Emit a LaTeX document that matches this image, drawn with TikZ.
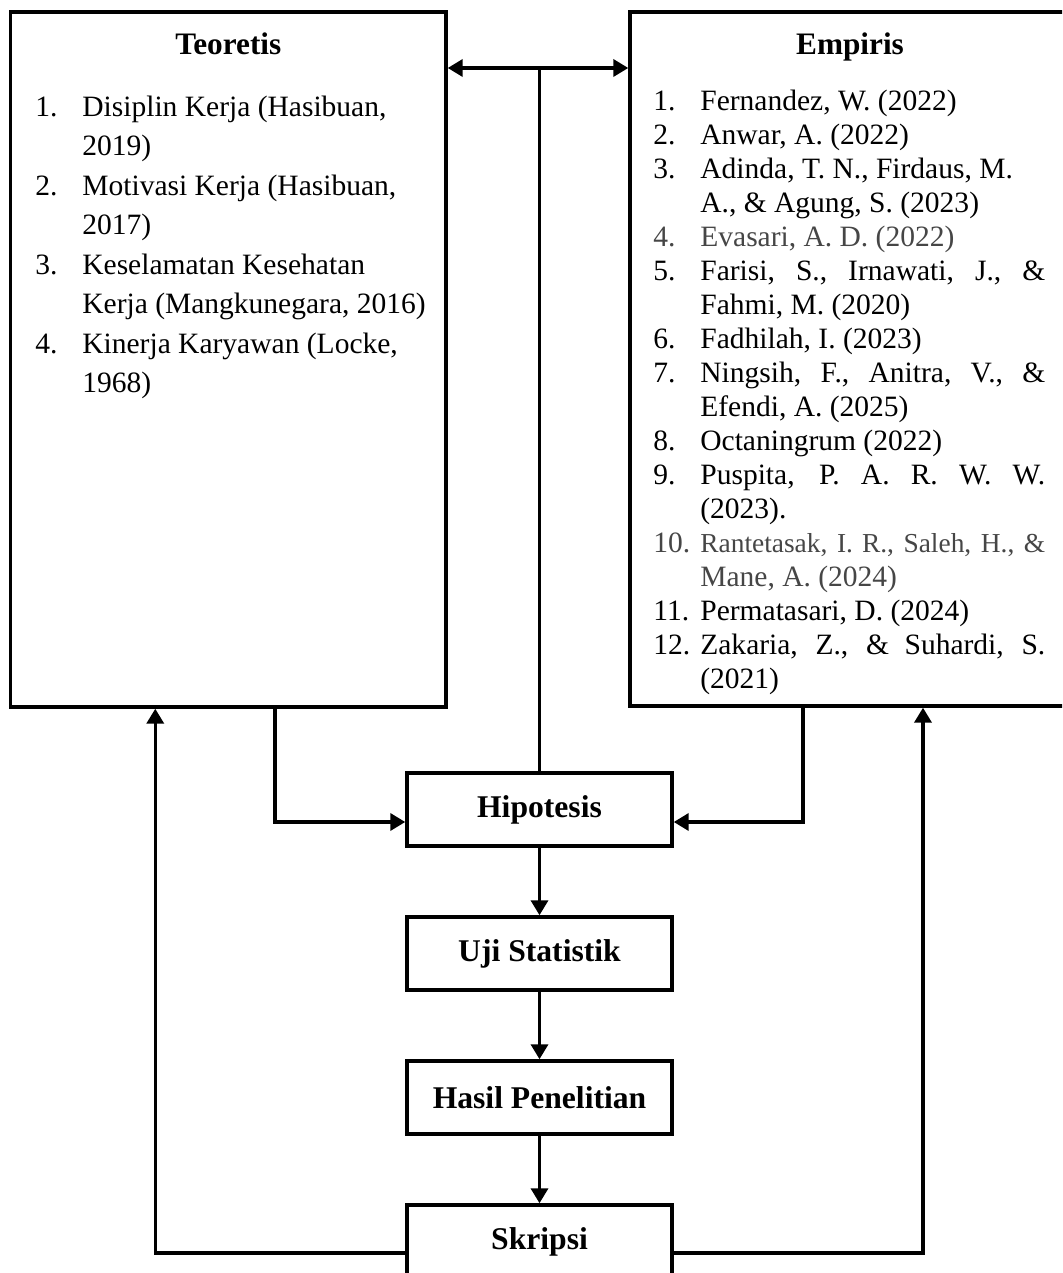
\documentclass[tikz,border=0pt]{standalone}
\usepackage{fontspec}
\setmainfont{Liberation Serif}
\usepackage{xcolor}
\definecolor{listgray}{RGB}{70,70,70}
\usepackage{tikz}
\usetikzlibrary{positioning, arrows.meta, calc}
\tikzstyle{box} = [
    rectangle, text centered,
    draw=black,
    line width=0.07cm,
    inner sep=0pt,
]
\tikzstyle{bigbox} = [
    box,
    minimum width=8.71cm,
    minimum height=13.9cm,
]
\tikzstyle{stepbox} = [
    box,
    minimum width=5.3cm,
    minimum height=1.46cm,
    font=\fontsize{18}{21}\selectfont\bfseries,
]
\tikzstyle{headtext} = [
    anchor=base,
    font=\fontsize{17.8}{21}\selectfont\bfseries,
]
\tikzstyle{itemlist} = [
    anchor=north west,
    inner sep=0pt,
]
\tikzstyle{line} = [line width=0.07cm]
\tikzstyle{arrow} = [line, ->, >={Triangle[length=0.3cm,width=0.34cm]}]

\begin{document}
\begin{tikzpicture}[x=0.02cm, y=-0.02cm]
    \useasboundingbox (0,0) rectangle (1062,1273);
    \clip (0,0) rectangle (1062,1273);

    % boxes
    \node (teo) at (228.25,359.5) [bigbox] {};
    \node (emp) at (850,359) [bigbox, minimum width=8.8cm, minimum height=13.88cm] {};
    \node (teoTitle) at (228.25,55) [headtext] {Teoretis};
    \node (empTitle) at (850,55) [headtext] {Empiris};

    \foreach \name/\txt [count=\i] in {hip/Hipotesis, uji/Uji Statistik, hasil/Hasil Penelitian, skripsi/Skripsi}
        \node (\name) at (539.5, 665.5+144*\i) [stepbox] {\txt};

    % lists
    \node (teoList) at (35,88) [itemlist, font=\fontsize{16.8}{22.5}\selectfont] {%
        \begin{tabular}{@{}p{0.94cm}@{}l@{}}
        1. & Disiplin Kerja (Hasibuan,\\
           & 2019)\\
        2. & Motivasi Kerja (Hasibuan,\\
           & 2017)\\
        3. & Keselamatan Kesehatan\\
           & Kerja (Mangkunegara, 2016)\\
        4. & Kinerja Karyawan (Locke,\\
           & 1968)
        \end{tabular}};

    \node (empList) at (653,86) [itemlist, font=\fontsize{16.8}{19.35}\selectfont] {%
        \begin{tabular}{@{}l@{}p{6.9cm}@{}}
        \makebox[0.94cm][l]{1.} & Fernandez, W. (2022)\\
        2. & Anwar, A. (2022)\\
        3. & Adinda, T. N., Firdaus, M.\newline A., \& Agung, S. (2023)\\
        \textcolor{listgray}{4.} & \leavevmode\color{listgray}Evasari, A. D. (2022)\\
        5. & Farisi, S., Irnawati, J., \&\linebreak Fahmi, M. (2020)\\
        6. & Fadhilah, I. (2023)\\
        7. & Ningsih, F., Anitra, V., \&\linebreak Efendi, A. (2025)\\
        8. & Octaningrum (2022)\\
        9. & Puspita, P. A. R. W. W.\linebreak (2023).\\
        \textcolor{listgray}{10.} & \leavevmode\color{listgray}{\fontsize{15.6}{19.35}\selectfont Rantetasak, I. R., Saleh, H., \&}\linebreak Mane, A. (2024)\\
        11. & Permatasari, D. (2024)\\
        12. & Zakaria, Z., \& Suhardi, S.\linebreak (2021)
        \end{tabular}};

    % arrows
    \coordinate (top) at (540,68);
    \draw [arrow, <->] (teo.east |- top) -- (emp.west |- top);
    \draw [line] (hip.north) -- (hip.north |- top);

    \draw [arrow] ([xshift=0.94cm]teo.south) |- ([yshift=-0.25cm]hip.west);
    \draw [arrow] ([xshift=-0.94cm]emp.south) |- ([yshift=-0.25cm]hip.east);

    \foreach \a/\b in {hip/uji, uji/hasil, hasil/skripsi}
        \draw [arrow] (\a.south) to (\b.north);

    \draw [arrow] ([yshift=-0.23cm]skripsi.west) -| ([xshift=-1.46cm]teo.south);
    \draw [arrow] ([yshift=-0.23cm]skripsi.east) -| ([xshift=1.46cm]emp.south);

\end{tikzpicture}
\end{document}
